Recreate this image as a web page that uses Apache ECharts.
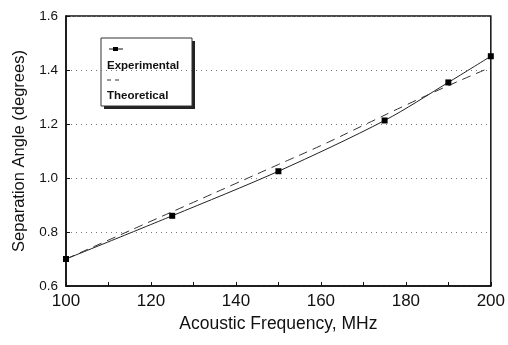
<!DOCTYPE html>
<html><head><meta charset="utf-8">
<script src="https://cdn.jsdelivr.net/npm/echarts@6/dist/echarts.min.js"></script>
<style>html,body{margin:0;padding:0;background:#fff}#c{width:508px;height:345px}</style>
</head><body><div id="c"></div>
<script>
var expX = [100, 125, 150, 175, 190, 200];
var expY = [0.70, 0.86, 1.025, 1.213, 1.354, 1.451];
var theoX = [100, 110, 120, 130, 140, 150, 160, 170, 180, 190, 200];
var theoY = [0.70, 0.77, 0.84, 0.91, 0.98, 1.05, 1.12, 1.195, 1.27, 1.342, 1.41];
var legendNames = ['Experimental', 'Theoretical'];

var chart = echarts.init(document.getElementById('c'));
var F = 'Liberation Sans, Arial, sans-serif';
chart.setOption({
  animation: false,
  backgroundColor: '#fff',
  grid: {left: 66, right: 15, top: 16, bottom: 59, show: true, borderColor: '#111', borderWidth: 1.5},
  xAxis: {
    type: 'value', min: 100, max: 200, interval: 20,
    name: 'Acoustic Frequency, MHz', nameLocation: 'middle', nameGap: 29,
    nameTextStyle: {fontFamily: F, fontSize: 17.5, color: '#111'},
    axisLine: {onZero: false, lineStyle: {color: '#111', width: 1.5}},
    axisTick: {inside: true, length: 4, lineStyle: {color: '#111'}},
    minorTick: {show: true, splitNumber: 2, length: 4, lineStyle: {color: '#111'}},
    axisLabel: {fontFamily: F, fontSize: 17, color: '#111', margin: 7},
    splitLine: {show: false}
  },
  yAxis: {
    type: 'value', min: 0.6, max: 1.6, interval: 0.2,
    name: 'Separation Angle (degrees)', nameLocation: 'middle', nameGap: 36,
    nameTextStyle: {fontFamily: F, fontSize: 16.5, color: '#111'},
    axisLine: {lineStyle: {color: '#111', width: 1.5}},
    axisTick: {inside: true, length: 4, lineStyle: {color: '#111'}},
    axisLabel: {fontFamily: F, fontSize: 13.5, color: '#111', margin: 8,
      formatter: function (v) { return v.toFixed(1); }},
    splitLine: {show: true, lineStyle: {color: '#777', type: [1, 4], width: 1}}
  },
  series: [
    {name: legendNames[0], type: 'line', data: expX.map(function (x, i) { return [x, expY[i]]; }),
     smooth: 0.3, symbol: 'rect', symbolSize: 6, itemStyle: {color: '#000'},
     lineStyle: {color: '#222', width: 1}},
    {name: legendNames[1], type: 'line', data: theoX.map(function (x, i) { return [x, theoY[i]]; }),
     smooth: true, symbol: 'none', lineStyle: {color: '#333', width: 1, type: [9, 6]}}
  ],
  graphic: [
    {type: 'rect', shape: {x: 104, y: 41, width: 91, height: 68}, style: {fill: '#222'}},
    {type: 'rect', shape: {x: 101, y: 38, width: 91, height: 68}, style: {fill: '#fff', stroke: '#333', lineWidth: 1}},
    {type: 'line', shape: {x1: 109, y1: 49, x2: 123, y2: 49}, style: {stroke: '#111', lineWidth: 1}},
    {type: 'rect', shape: {x: 113, y: 47, width: 5, height: 4}, style: {fill: '#000'}},
    {type: 'text', style: {x: 107, y: 66, text: legendNames[0], font: 'bold 11.5px ' + F, fill: '#111', verticalAlign: 'middle'}},
    {type: 'line', shape: {x1: 107, y1: 80, x2: 123, y2: 80}, style: {stroke: '#333', lineWidth: 1, lineDash: [4, 4]}},
    {type: 'text', style: {x: 107, y: 96, text: legendNames[1], font: 'bold 11.5px ' + F, fill: '#111', verticalAlign: 'middle'}}
  ]
});
</script></body></html>
